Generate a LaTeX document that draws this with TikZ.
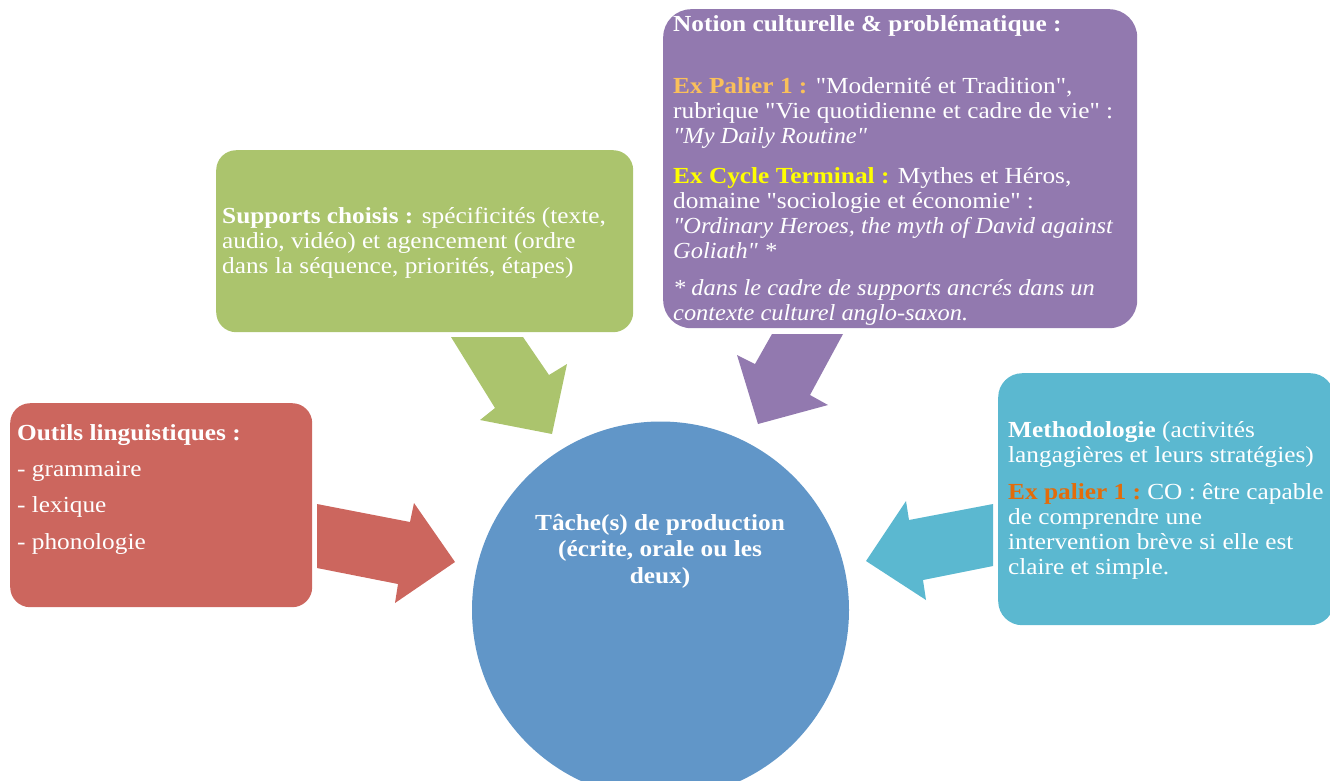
\documentclass[tikz,border=0pt]{standalone}
\usepackage{fontspec}
\setmainfont{Liberation Serif}[Ligatures=TeXOff, FakeStretch=1.1,
  ItalicFeatures={FakeStretch=1.06}]
\usetikzlibrary{positioning}
\definecolor{ouRed}{RGB}{204,102,94}
\definecolor{ouGreen}{RGB}{171,196,109}
\definecolor{ouPurple}{RGB}{146,121,175}
\definecolor{ouCyan}{RGB}{91,184,208}
\definecolor{ouBlue}{RGB}{97,150,200}
\definecolor{ouPalier}{RGB}{250,192,90}
\definecolor{ouCycle}{RGB}{255,255,0}
\definecolor{ouOrange}{RGB}{227,108,10}
\tikzset{
  card/.style={
    rectangle, rounded corners=20pt, anchor=north west, inner sep=0pt
  },
  outils/.style={card, fill=ouRed},
  supports/.style={card, fill=ouGreen},
  notion/.style={card, fill=ouPurple, rounded corners=28pt},
  metho/.style={card, fill=ouCyan, rounded corners=24pt},
  tache/.style={circle, fill=ouBlue, inner sep=0pt},
  txt/.style={
    text=white, align=left, inner sep=0pt, anchor=north west,
    font=\fontsize{23}{25}\selectfont
  },
  ctxt/.style={txt, align=center, anchor=center, font=\fontsize{23}{26.5}\selectfont\bfseries},
  redarr/.style={fill=ouRed},
  greenarr/.style={fill=ouGreen},
  purplearr/.style={fill=ouPurple},
  cyanarr/.style={fill=ouCyan}
}
\begin{document}
\begin{tikzpicture}[x=1pt, y=-1pt]
  \useasboundingbox (0,0) rectangle (1330,780);
  % boxes
  \node[outils, minimum width=302pt, minimum height=204pt] (outilsBox) at (10,403) {};
  \node[supports, minimum width=417pt, minimum height=182pt] (supportsBox) at (216,150) {};
  \node[notion, minimum width=474pt, minimum height=319pt] (notionBox) at (663,9) {};
  \node[metho, minimum width=336pt, minimum height=252pt] (methoBox) at (998,373) {};
  \node[tache, minimum size=377pt] (tacheCircle) at (660.5,610) {};
  % block arrows
  \fill[redarr] (317,504) -- (410,522) -- (414,503) -- (455,562) -- (395,603)
    -- (398,584) -- (317,568) -- cycle;
  \fill[greenarr] (451,337) -- (523,337) -- (549,375) -- (567,364) -- (552,434)
    -- (480,420) -- (495,408) -- cycle;
  \fill[purplearr] (772,334) -- (843,334) -- (810,395) -- (828,405) -- (758,424)
    -- (737,355) -- (755,364) -- cycle;
  \fill[cyanarr] (993,504) -- (909,520) -- (906,501) -- (866,561) -- (926,600)
    -- (923,580) -- (993,566) -- cycle;
  % texts
  \node[txt] (outilsText) at (17,424)
    {\textbf{Outils linguistiques :}\\[11pt]
     - grammaire\\[11pt]
     - lexique\\[12pt]
     - phonologie};
  \node[txt] (supportsText) at (222,207)
    {\textbf{Supports choisis :} spécificités (texte,\\
     audio, vidéo) et agencement (ordre\\
     dans la séquence, priorités, étapes)};
  \node[txt] (notionText) at (673,15)
    {\textbf{Notion culturelle \& problématique :}\\[37pt]
     \textcolor{ouPalier}{\textbf{Ex Palier 1 :}} "Modernité et Tradition",\\
     rubrique "Vie quotidienne et cadre de vie" :\\
     \textit{"My Daily Routine"}\\[15pt]
     \textcolor{ouCycle}{\textbf{Ex Cycle Terminal :}} Mythes et Héros,\\
     domaine "sociologie et économie" :\\
     \textit{"Ordinary Heroes, the myth of David against}\\
     \textit{Goliath" *}\\[12pt]
     \textit{* dans le cadre de supports ancrés dans un}\\
     \textit{contexte culturel anglo-saxon.}};
  \node[txt] (methoText) at (1008,421)
    {\textbf{Methodologie} (activités\\
     langagières et leurs stratégies)\\[12pt]
     \textcolor{ouOrange}{\textbf{Ex palier 1 :}}~CO : être capable\\
     de comprendre une\\
     intervention brève si elle est\\
     claire et simple.};
  \node[ctxt] (tacheText) at (660,551)
    {Tâche(s) de production\\
     (écrite, orale ou les\\
     deux)};
\end{tikzpicture}
\end{document}
